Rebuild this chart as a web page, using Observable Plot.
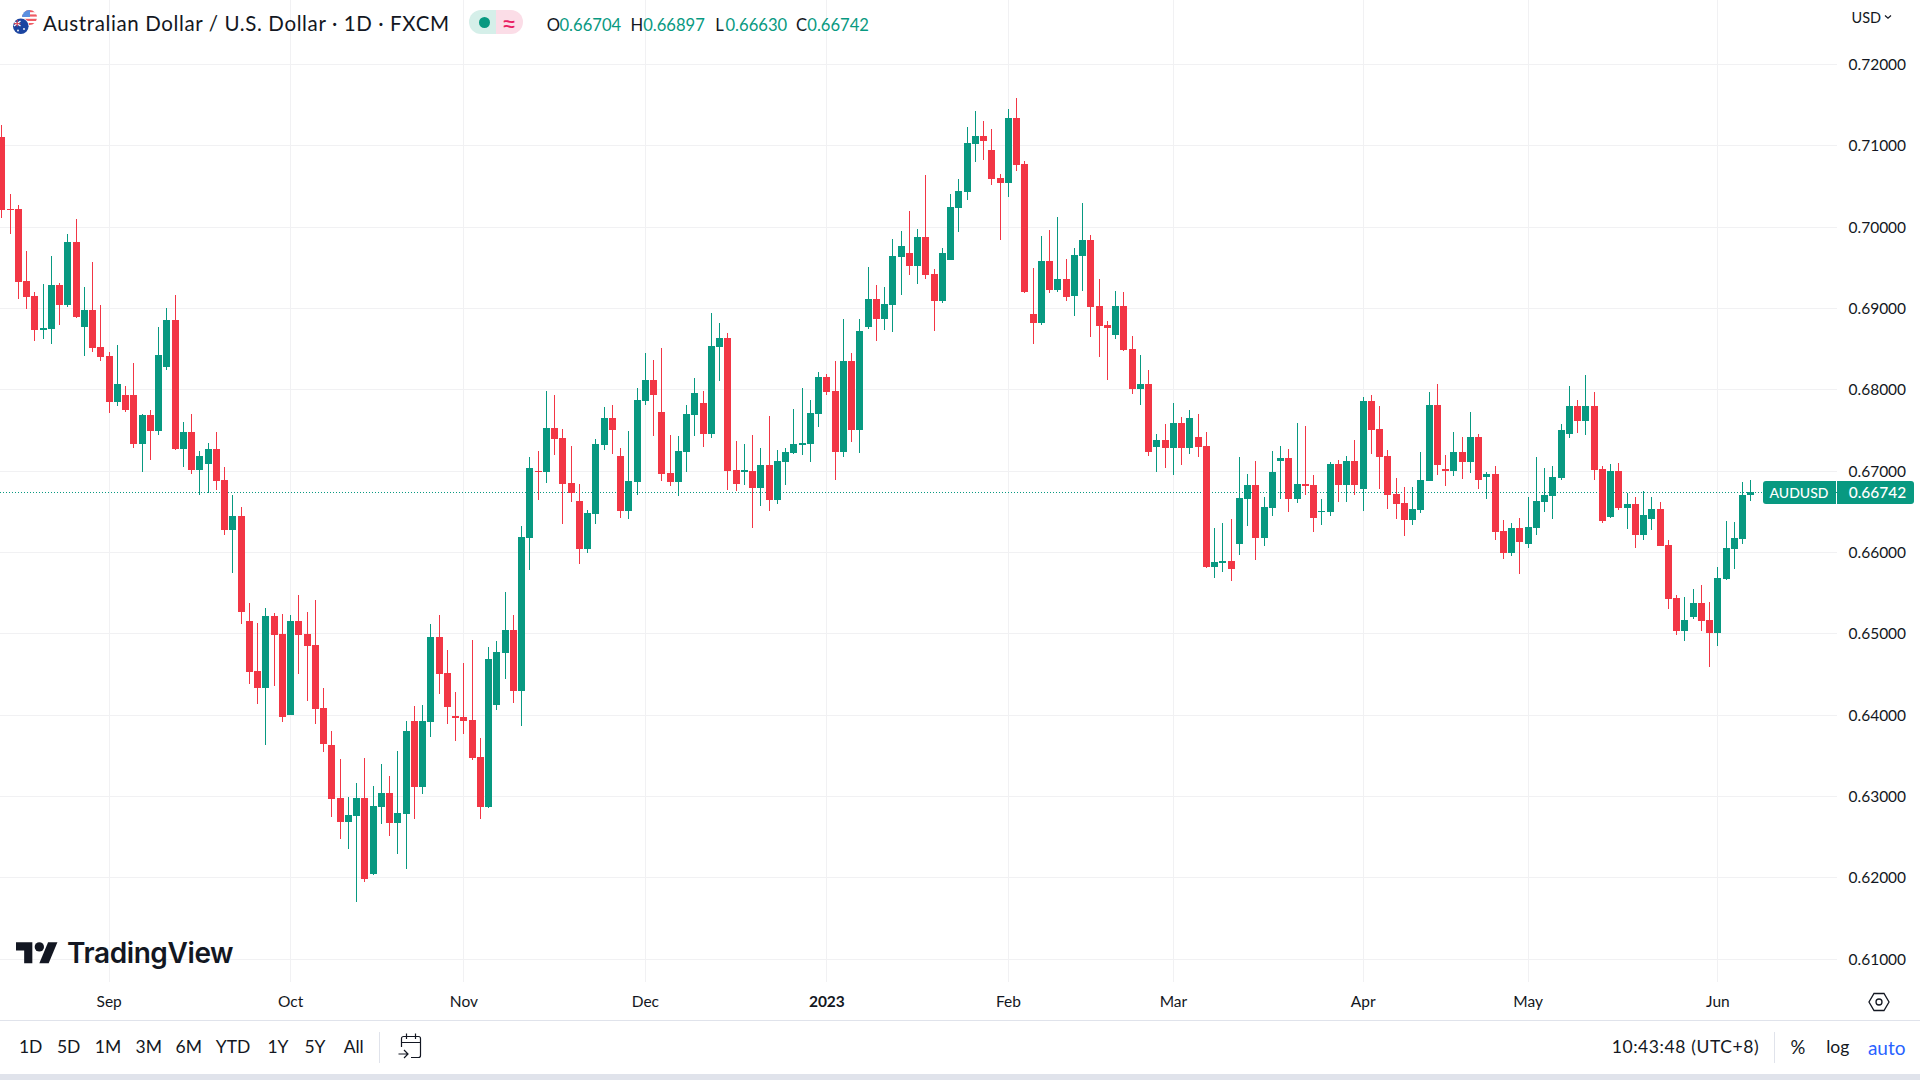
<!DOCTYPE html>
<html><head><meta charset="utf-8">
<script src="https://cdn.jsdelivr.net/npm/d3@7"></script>
<script src="https://cdn.jsdelivr.net/npm/@observablehq/plot@0.6"></script>
<style>
html,body{margin:0;padding:0;background:#fff}
#root{position:relative;width:1920px;height:1080px;overflow:hidden;background:#fff;font-family:Lato,"Open Sans",sans-serif;color:#131722}
#root svg{display:block}
.t{position:absolute;white-space:nowrap;transform:translate(-50%,-50%);line-height:1}
.l{position:absolute;white-space:nowrap;transform:translateY(-50%);line-height:1}
.box{position:absolute}
</style></head><body><div id="root"></div>
<script>
// prices in 1/100000 of a US dollar, one entry per daily bar
const opens=[71109,70224,70224,69339,69154,68736,68749,69289,69044,69818,68773,68982,68527,68417,67855,67937,67937,67335,67691,67495,68281,68859,67273,67482,67015,67089,67273,66892,66278,66450,65159,64544,64335,65220,64999,64003,65159,64999,64864,64089,63635,62983,62688,62762,62983,62049,62872,63045,62676,62786,63930,63118,63917,64962,64520,63991,63979,63942,63487,62872,64126,64766,65048,64298,66179,67003,66991,67532,67409,66855,66634,66044,66474,67323,67654,67187,66511,66868,67863,68122,67728,66978,66868,67237,67691,67839,67458,68527,68638,67015,66991,67003,66794,67077,66646,67114,67224,67323,67335,67704,68158,67986,67237,68355,67507,68773,69117,68871,69044,69634,69683,69523,69880,69425,69093,69597,70236,70433,71023,71121,70949,70605,70543,71342,70777,68933,68822,69584,69228,69363,69154,69646,69843,69031,68798,68675,69031,68503,68011,68072,67298,67384,67286,67593,67286,67421,67310,65823,65872,65897,66106,66659,66831,66179,66548,67126,67163,66659,66843,66831,66499,66499,67089,66831,67126,66782,67863,67519,67187,66720,66610,66401,66524,66880,67814,67028,67003,67237,67114,67421,66929,66966,66265,65995,66302,66106,66302,66622,66696,66917,67458,67802,67618,67802,67028,66437,67003,66548,66597,66216,66413,66536,66093,65442,65036,65208,65380,65171,65011,65675,66044,66167,66704];
const highs=[71252,70408,70273,69707,69203,69302,69646,69314,69916,70101,69265,69572,69044,68466,68552,68048,68331,67704,67753,68773,69007,69167,67605,67704,67249,67347,67482,67052,66708,66560,65380,65134,65319,65257,65245,65233,65479,65270,65417,64335,63807,63463,62995,63168,63475,63131,63401,63254,63561,63930,64114,64126,65122,65233,64802,64286,64643,64925,63721,64839,64913,65515,65233,66327,67175,67249,67986,67937,67519,67310,66843,66524,67396,67790,67814,67286,67495,68023,68453,68367,68515,67446,67433,67814,68146,67986,68945,68822,68699,67372,67335,67446,67286,67679,67261,67286,67765,68023,67876,68220,68195,68355,68871,68453,68871,69511,69289,69265,69855,69953,70199,69978,70642,69486,69744,70408,70593,71232,71428,71306,71207,70654,71453,71588,70814,69498,69892,69966,70125,69609,69744,70297,69904,69363,68847,69216,69203,68662,68429,68245,67458,67581,67839,67667,67753,67704,67482,66302,66364,66413,67175,66966,67126,66683,67249,67310,67273,67593,67556,66954,66659,67114,67138,67187,67384,67913,67937,67802,67261,66917,66806,66806,67237,67974,68072,67200,67482,67421,67728,67458,66991,67064,66401,66364,66425,66683,67175,67040,67064,67581,68048,67876,68183,67974,67064,67089,67101,66732,66683,66757,66683,66622,66155,65479,65454,65552,65601,65393,65823,66388,66376,66868,66897];
const lows=[70113,69916,69117,68994,68601,68626,68564,68798,69019,68884,68417,68466,68355,67716,67802,67728,67286,66991,67138,67446,68245,67261,67052,66966,66708,66732,66769,66216,65749,65122,64385,64139,63635,64360,63917,64003,64507,64176,63893,63549,62750,62479,62356,61705,61951,62037,62663,62516,62295,62110,62725,63032,63733,64262,63893,63684,63770,63450,62725,62860,64065,64446,64151,63868,65786,66646,66855,67200,66351,66622,65860,65995,66351,67261,67212,66425,66413,66708,67814,67433,66880,66819,66696,66991,67433,67298,67409,68109,66769,66757,66831,66302,66573,66511,66597,66831,67212,67200,67114,67544,67937,66892,67175,67359,67224,68749,68601,68736,68712,69167,69412,69302,69363,68724,69068,69597,69941,70334,70802,70826,70519,69843,70371,70691,69191,68564,68798,69191,69203,69093,68908,69216,68650,68404,68122,68626,68478,67949,67814,67187,66991,67040,66954,67077,67212,67175,65810,65688,65761,65651,65970,66327,65909,66081,66450,66659,66499,66610,66708,66253,66339,66450,66622,66622,66708,66511,67212,66782,66536,66413,66204,66339,66487,66880,66954,66819,66941,66905,66978,66782,66659,66155,65921,65958,65737,66056,66216,66499,66413,66892,67409,67470,67446,66892,66364,66425,66524,66290,66056,66155,66278,66081,65306,64987,64913,65184,65036,64593,64852,65663,65798,66106,66630];
const closes=[70216,70211,69326,69142,68736,68761,69289,69044,69818,68896,68982,68515,68404,67855,68072,67753,67335,67691,67495,68429,68859,67273,67482,67015,67187,67273,66880,66278,66450,65270,64532,64335,65220,64987,63979,65159,64987,64852,64077,63647,62971,62688,62774,62983,61987,62885,63045,62676,62799,63807,63118,63930,64962,64507,64102,63967,63930,63475,62872,64692,64778,65048,64298,66192,67040,66991,67532,67396,66843,66732,66044,66487,67335,67654,67507,66511,66880,67876,68122,67937,66966,66868,67249,67704,67962,67458,68540,68638,67003,66843,67015,66794,67077,66646,67126,67237,67335,67347,67716,68158,67974,67237,68355,67507,68724,69117,68871,69056,69646,69769,69523,69880,69412,69093,69683,70248,70445,71035,71121,71060,70593,70543,71342,70765,69203,68822,69584,69228,69363,69142,69658,69843,69019,68785,68761,69031,68490,68011,68072,67237,67384,67286,67593,67286,67654,67298,65823,65884,65897,65798,66671,66831,66179,66560,66991,67163,66659,66843,66819,66425,66511,67089,66831,67126,66831,67863,67507,67175,66708,66597,66401,66536,66892,67814,67077,67003,67237,67114,67421,66892,66966,66253,65995,66302,66130,66315,66634,66708,66929,67507,67802,67618,67802,67015,66388,67003,66548,66597,66216,66462,66536,66081,65429,65036,65171,65380,65159,65011,65688,66056,66179,66708,66742];
const priceTicks=[0.72,0.71,0.70,0.69,0.68,0.67,0.66,0.65,0.64,0.63,0.62,0.61];
const monthBars=[13,35,56,78,122,142,165,185,208];
const monthNames=["Sep","Oct","Nov","Dec","Feb","Mar","Apr","May","Jun"];
const yearBars=[100];
const yearNames=["2023"];
const lastPrice=0.66742;
const ranges=[["1D",30.7],["5D",68.7],["1M",108],["3M",148.7],["6M",188.7],["YTD",233],["1Y",278],["5Y",315],["All",353.7]];

const UP="#089981",DOWN="#F23645",GRID="#f1f1f3",INK="#131722";
const FONT='Lato,"Open Sans",sans-serif';
const candles=opens.map((o,i)=>({i,o:o/1e5,h:highs[i]/1e5,l:lows[i]/1e5,c:closes[i]/1e5}));
const dir=d=>d.c>=d.o?"up":"down";
const allGrid=[...monthBars,...yearBars];

const chart=Plot.plot({
  width:1920,height:1080,marginLeft:0,marginRight:83,marginTop:0,marginBottom:98.3,
  style:{fontFamily:FONT,fontSize:"15.5px",color:INK,background:"transparent"},
  x:{type:"linear",domain:[-0.16667,222.5]},
  y:{type:"linear",domain:[0.607252,0.727929]},
  color:{domain:["up","down"],range:[UP,DOWN]},
  marks:[
    Plot.ruleX(allGrid,{stroke:GRID,strokeWidth:1,shapeRendering:"crispEdges"}),
    Plot.ruleY(priceTicks,{stroke:GRID,strokeWidth:1,dy:-0.5,shapeRendering:"crispEdges"}),
    Plot.ruleY([lastPrice],{stroke:UP,strokeWidth:1,strokeDasharray:"1,2",dy:-0.5,shapeRendering:"crispEdges"}),
    Plot.ruleX(candles,{x:"i",y1:"l",y2:"h",stroke:dir,strokeWidth:1,shapeRendering:"crispEdges"}),
    Plot.rect(candles,{x1:d=>d.i-3/8.25,x2:d=>d.i+4/8.25,y1:"o",y2:"c",fill:dir,shapeRendering:"crispEdges"}),
    Plot.axisY(priceTicks,{anchor:"right",tickSize:0,tickPadding:11,tickFormat:d3.format(".5f"),label:null,fill:INK}),
    Plot.axisX(monthBars,{anchor:"bottom",tickSize:0,tickPadding:13.5,tickFormat:i=>monthNames[monthBars.indexOf(i)],label:null,fill:INK,fontSize:15.5}),
    Plot.axisX(yearBars,{anchor:"bottom",tickSize:0,tickPadding:13.5,tickFormat:i=>yearNames[yearBars.indexOf(i)],label:null,fill:INK,fontSize:15.5,fontWeight:700})
  ]
});
const root=document.getElementById("root");
root.appendChild(chart);

function put(cls,txt,x,y,size,color,extra){const e=document.createElement("div");e.className=cls;e.textContent=txt;
  e.style.left=x+"px";e.style.top=y+"px";e.style.fontSize=size+"px";if(color)e.style.color=color;if(extra)Object.assign(e.style,extra);root.appendChild(e);return e;}
function box(x,y,w,h,bg,extra){const e=document.createElement("div");e.className="box";Object.assign(e.style,{left:x+"px",top:y+"px",width:w+"px",height:h+"px",background:bg},extra||{});root.appendChild(e);return e;}
function svg(x,y,w,h,vb,inner){const e=document.createElement("div");e.className="box";Object.assign(e.style,{left:x+"px",top:y+"px",width:w+"px",height:h+"px"});
  e.innerHTML=`<svg width="${w}" height="${h}" viewBox="${vb}">${inner}</svg>`;root.appendChild(e);}

// header
svg(12,9,28,28,"0 0 28 28",`<defs><clipPath id="u"><circle cx="17.5" cy="8.5" r="7.5"/></clipPath></defs>
 <g clip-path="url(#u)"><rect x="9" y="0" width="18" height="17" fill="#fff"/><rect x="9" y="1" width="18" height="2.2" fill="#ef5b64"/><rect x="9" y="5.4" width="18" height="2.2" fill="#ef5b64"/><rect x="9" y="9.8" width="18" height="2.2" fill="#ef5b64"/><rect x="9" y="14" width="18" height="2.2" fill="#ef5b64"/><rect x="9" y="0" width="9" height="8" fill="#5b8fe0"/></g>
 <circle cx="8.8" cy="17.2" r="8.4" fill="#fff"/><circle cx="8.8" cy="17.2" r="7.8" fill="#1b44a0"/><path d="M2 12.5 L8.5 17 M8.5 12 L2 17" stroke="#fff" stroke-width="1.3"/><path d="M2 14.7 H8.5 M5.2 11 V17.5" stroke="#e5404a" stroke-width="1"/><circle cx="12" cy="20" r=".9" fill="#fff"/><circle cx="6" cy="21.5" r=".9" fill="#fff"/>`);
put("l","Australian Dollar / U.S. Dollar · 1D · FXCM",43,23,20.5,INK,{letterSpacing:"0.62px"});
box(469,10,27,24,"#d5efe9",{borderRadius:"12px 0 0 12px"});
box(496,10,27,24,"#fbdde7",{borderRadius:"0 12px 12px 0"});
box(478.5,16.8,11,11,UP,{borderRadius:"50%"});
put("t","≈",509,21.5,27,"#e91e63");
[["O",546.7,"0.66704",559.5],["H",630.5,"0.66897",643.2],["L",715.3,"0.66630",725.5],["C",796,"0.66742",807.3]].forEach(([a,x,v,vx])=>{
  put("l",a,x,25,16.6,INK);put("l",v,vx,25,16.6,UP);});
put("l","USD",1851.5,18,14.5,INK);
svg(1884,14,8,6,"0 0 8 6",`<path d="M1 1.5 L4 4.2 L7 1.5" fill="none" stroke="${INK}" stroke-width="1.2"/>`);

// last price label
box(1763,481,72.5,23,UP,{borderRadius:"3px 0 0 3px"});
box(1836.5,481,77.5,23,UP,{borderRadius:"0 3px 3px 0"});
put("t","AUDUSD",1799,493,14,"#fff",{fontWeight:500});
put("t","0.66742",1877.5,493,15.5,"#fff",{fontWeight:500});

// logo
svg(16,942,42,22,"0 0 36 18.5",`<path d="M14 0H0v7h7v11h7V0Z" fill="${INK}"/><path d="M28 18h-8L27.5 0h8L28 18Z" fill="${INK}"/><circle cx="20" cy="4" r="4" fill="${INK}"/>`);
put("l","TradingView",67,953,28,INK,{fontFamily:"Inter",fontWeight:600,letterSpacing:"-0.4px"});

// settings icon
svg(1868,991,22,22,"0 0 22 22",`<path d="M6 2.5H16L21 11L16 19.5H6L1 11Z" fill="none" stroke="${INK}" stroke-width="1.3"/><circle cx="11" cy="11" r="3" fill="none" stroke="${INK}" stroke-width="1.3"/>`);

// toolbar
box(0,1020,1920,1,"#e0e3eb");
box(0,1074,1920,6,"#e0e3eb");
box(379,1032,1,31,"#e0e3eb");
box(1774,1032,1,31,"#e0e3eb");
ranges.forEach(([t,x])=>put("t",t,x,1047,17.5,INK));
svg(397,1032,28,29,"0 0 28 29",`<path d="M4.5 15V6.5a2 2 0 0 1 2-2h15a2 2 0 0 1 2 2V23.5a2 2 0 0 1-2 2H14" fill="none" stroke="${INK}" stroke-width="1.2"/><path d="M4.5 10.5H23.5M9.5 1.5V7M18.5 1.5V7" fill="none" stroke="${INK}" stroke-width="1.2"/><path d="M1.5 22H11M7 18L11 22L7 26" fill="none" stroke="${INK}" stroke-width="1.2"/>`);
put("t","10:43:48 (UTC+8)",1685.5,1047,17.5,INK,{letterSpacing:"0.6px"});
put("t","%",1798,1047,18.5,INK);
put("t","log",1837.7,1047,17.5,INK);
put("t","auto",1886.7,1047,19,"#2962ff");
</script></body></html>
